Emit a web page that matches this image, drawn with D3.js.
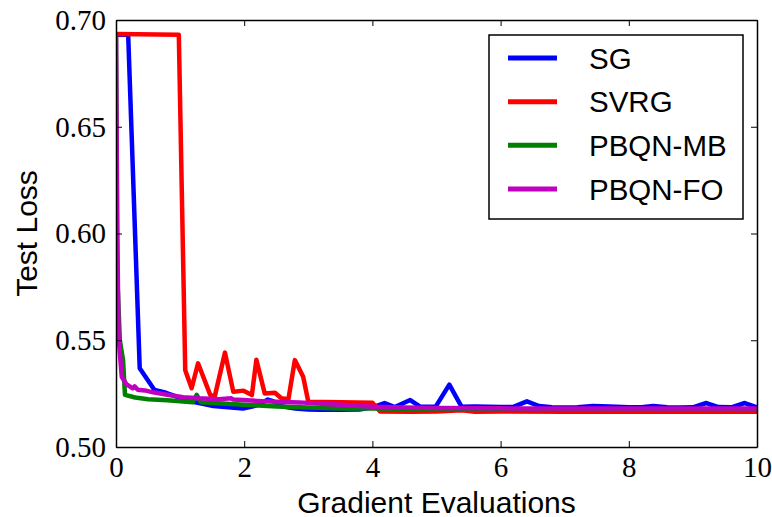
<!DOCTYPE html>
<html>
<head>
<meta charset="utf-8">
<script src="https://cdn.jsdelivr.net/npm/d3@7"></script>
<style>
	body { margin: 0; background: #fff; }
	svg { display: block; }
	.tick text { font-family: "Liberation Serif", "Times New Roman", serif; font-size: 29px; fill: #000; }
	.label { font-family: "Liberation Sans", Arial, sans-serif; font-size: 30px; fill: #000; }
	.legend text { font-family: "Liberation Sans", Arial, sans-serif; font-size: 29.5px; fill: #000; }
</style>
</head>
<body>
<svg width="772" height="517"></svg>
<script>
(function () {

	var seriesNames = ["SG", "SVRG", "PBQN-MB", "PBQN-FO"];
	var seriesColors = ["#0000ff", "#ff0000", "#008000", "#bf00bf"];

	var sgX = [0, 0.19, 0.37, 0.6, 0.78, 1.0, 1.2, 1.52, 1.98, 2.2, 2.37, 2.45, 2.6, 2.8, 3.0, 3.18, 3.5, 3.8, 4.0, 4.19, 4.35, 4.59, 4.75, 4.99, 5.2, 5.39, 5.6, 5.8, 6.0, 6.2, 6.41, 6.6, 6.8, 7.0, 7.2, 7.44, 7.7, 8.0, 8.2, 8.38, 8.6, 8.8, 9.0, 9.21, 9.4, 9.6, 9.81, 10];
	var sgY = [0.6931, 0.6931, 0.5369, 0.5267, 0.5254, 0.523, 0.5212, 0.5192, 0.518, 0.5195, 0.5222, 0.5215, 0.519, 0.518, 0.5176, 0.5174, 0.5174, 0.5176, 0.5186, 0.5206, 0.5187, 0.522, 0.5188, 0.519, 0.5292, 0.5189, 0.519, 0.5189, 0.5187, 0.5188, 0.5214, 0.5192, 0.5186, 0.5185, 0.5186, 0.5192, 0.519, 0.5186, 0.5186, 0.5192, 0.5186, 0.5185, 0.5186, 0.5206, 0.5187, 0.5186, 0.5206, 0.5186];

	var svrgX = [0, 0.98, 1.08, 1.18, 1.28, 1.47, 1.54, 1.70, 1.83, 1.99, 2.12, 2.19, 2.32, 2.48, 2.58, 2.69, 2.79, 2.92, 3.0, 3.5, 4.0, 4.12, 4.6, 5.0, 5.4, 5.6, 6.0, 7.0, 8.0, 9.0, 10];
	var svrgY = [0.6934, 0.6931, 0.536, 0.5275, 0.5392, 0.5244, 0.5236, 0.5442, 0.5259, 0.5264, 0.5244, 0.5409, 0.5251, 0.5254, 0.5228, 0.5224, 0.5407, 0.5329, 0.5212, 0.521, 0.5207, 0.5166, 0.5165, 0.5166, 0.5172, 0.5165, 0.5166, 0.5165, 0.5165, 0.5165, 0.5165];

	var mbX = [0, 0.02, 0.06, 0.11, 0.14, 0.3, 0.5, 0.8, 1.05, 1.2, 1.26, 1.32, 1.6, 2.0, 2.5, 3.0, 3.5, 4.0, 5.0, 6.0, 7.0, 8.0, 9.0, 10];
	var mbY = [0.6931, 0.58, 0.55, 0.5407, 0.5244, 0.5232, 0.5224, 0.5219, 0.5213, 0.521, 0.5244, 0.521, 0.5205, 0.5198, 0.519, 0.5185, 0.518, 0.518, 0.5177, 0.5176, 0.5176, 0.5176, 0.5175, 0.5175];

	var foX = [0, 0.02, 0.04, 0.09, 0.16, 0.22, 0.26, 0.29, 0.34, 0.45, 0.58, 0.8, 1.05, 1.3, 1.6, 1.8, 1.83, 2.2, 2.6, 2.86, 3.2, 3.65, 4.0, 4.5, 5.0, 6.0, 7.0, 8.0, 9.0, 10];
	var foY = [0.6931, 0.60, 0.5517, 0.5329, 0.5295, 0.5283, 0.5275, 0.5284, 0.5268, 0.5265, 0.5256, 0.5245, 0.5233, 0.5228, 0.5224, 0.5228, 0.5222, 0.5216, 0.5211, 0.5209, 0.5203, 0.5196, 0.5189, 0.5185, 0.5183, 0.5181, 0.518, 0.518, 0.518, 0.518];

	var xTicks = [0, 2, 4, 6, 8, 10];
	var yTicks = [0.50, 0.55, 0.60, 0.65, 0.70];

	var allX = [sgX, svrgX, mbX, foX];
	var allY = [sgY, svrgY, mbY, foY];

	var left = 116, right = 757, top = 20, bottom = 447;

	var svg = d3.select("svg");

	var xScale = d3.scaleLinear()
									.domain([0, 10])
									.range([left, right]);

	var yScale = d3.scaleLinear()
									.domain([0.5, 0.7])
									.range([bottom, top]);

	svg.append("clipPath")
		.attr("id", "plotclip")
		.append("rect")
		.attr("x", left)
		.attr("y", top)
		.attr("width", right - left)
		.attr("height", bottom - top);

	var line = d3.line()
		.x(function(d){ return xScale(d[0]); })
		.y(function(d){ return yScale(d[1]); });

	var series = seriesNames.map(function(name, i){
		return allX[i].map(function(x, j){ return [x, allY[i][j]]; });
	});

	svg.append("g")
		.attr("clip-path", "url(#plotclip)")
		.selectAll("path")
		.data(series)
		.enter()
		.append("path")
		.attr("d", line)
		.attr("fill", "none")
		.attr("stroke", function(d, i){ return seriesColors[i]; })
		.attr("stroke-width", 4.5)
		.attr("stroke-linejoin", "round");

	// axes, ticks pointing inward on all four sides
	svg.append("g")
		.attr("transform", "translate(0," + bottom + ")")
		.call(d3.axisBottom(xScale).tickValues(xTicks).tickFormat(d3.format("d"))
			.tickSizeInner(-6).tickSizeOuter(0).tickPadding(9));

	svg.append("g")
		.attr("transform", "translate(0," + top + ")")
		.call(d3.axisTop(xScale).tickValues(xTicks).tickFormat("")
			.tickSizeInner(-6).tickSizeOuter(0));

	svg.append("g")
		.attr("transform", "translate(" + left + ",0)")
		.call(d3.axisLeft(yScale).tickValues(yTicks).tickFormat(d3.format(".2f"))
			.tickSizeInner(-6).tickSizeOuter(0).tickPadding(10));

	svg.append("g")
		.attr("transform", "translate(" + right + ",0)")
		.call(d3.axisRight(yScale).tickValues(yTicks).tickFormat("")
			.tickSizeInner(-6).tickSizeOuter(0));

	svg.selectAll(".domain")
		.attr("stroke", "#000")
		.attr("stroke-width", 1.5);
	svg.selectAll(".tick line")
		.attr("stroke", "#000")
		.attr("stroke-width", 1);

	svg.append("text")
		.attr("class", "label")
		.attr("x", (left + right) / 2)
		.attr("y", 513)
		.attr("text-anchor", "middle")
		.text("Gradient Evaluations");

	svg.append("text")
		.attr("class", "label")
		.attr("transform", "translate(37," + ((top + bottom) / 2) + ") rotate(-90)")
		.attr("text-anchor", "middle")
		.text("Test Loss");

	// legend
	var legend = svg.append("g").attr("class", "legend");

	legend.append("rect")
		.attr("x", 489)
		.attr("y", 35)
		.attr("width", 254)
		.attr("height", 184)
		.attr("fill", "#fff")
		.attr("stroke", "#000")
		.attr("stroke-width", 1.5);

	var legendY = d3.scalePoint()
									.domain(seriesNames)
									.range([58, 189]);

	var items = legend.selectAll("g.item")
		.data(seriesNames)
		.enter()
		.append("g")
		.attr("class", "item")
		.attr("transform", function(d){ return "translate(0," + legendY(d) + ")"; });

	items.append("line")
		.attr("x1", 508)
		.attr("x2", 557)
		.attr("stroke", function(d, i){ return seriesColors[i]; })
		.attr("stroke-width", 5);

	items.append("text")
		.attr("x", 589)
		.attr("y", 10.5)
		.text(function(d){ return d; });

})();
</script>
</body>
</html>
